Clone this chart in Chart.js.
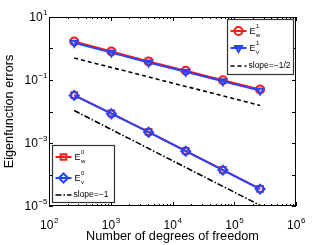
<!DOCTYPE html>
<html>
<head>
<meta charset="utf-8">
<script src="https://cdn.jsdelivr.net/npm/chart.js@4/dist/chart.umd.min.js"></script>
<style>
  html, body { margin: 0; padding: 0; background: #fff; }
  #wrap { width: 327px; height: 245px; }
</style>
</head>
<body>
<div id="wrap"><canvas id="myChart" width="327" height="245"></canvas></div>
<script>
const dofs = [256, 1024, 4096, 16384, 65536, 262144];
const ew1 = [1.66, 0.80, 0.39, 0.197, 0.098, 0.050];
const ev1 = [1.52, 0.74, 0.36, 0.183, 0.091, 0.046];
const slopeHalf = [0.5, 0.25, 0.125, 0.0625, 0.03125, 0.0156];
const ew0 = [0.0330, 0.0087, 0.00225, 5.6e-4, 1.40e-4, 3.5e-5];
const ev0 = [0.0325, 0.0085, 0.0022, 5.5e-4, 1.38e-4, 3.45e-5];
const slopeOne = [0.0107, 0.00268, 6.7e-4, 1.67e-4, 4.2e-5, 1.05e-5];
const xExps = [2, 3, 4, 5, 6];
const yExps = [1, -1, -3, -5];

const RED = "#ff1a1a";
const BLUE = "#2446ff";
const FONT = "'Liberation Sans', Arial, sans-serif";

const pts = (ys) => dofs.map((x, i) => ({ x: x, y: ys[i] }));

function series(label, ys, color, style, rot, order) {
  return {
    label: label,
    data: pts(ys),
    borderColor: color,
    backgroundColor: "rgba(255,255,255,0)",
    borderWidth: 2,
    pointStyle: style,
    pointRadius: style === "rectRot" ? 4.5 : 4,
    pointBorderWidth: 2,
    pointRotation: rot,
    order: order,
  };
}

function refLine(label, ys, dash) {
  return {
    label: label,
    data: pts(ys),
    borderColor: "#000",
    borderWidth: 1.6,
    borderDash: dash,
    pointRadius: 0,
    order: 3,
  };
}

const datasets = [
  series("Ew1", ew1, RED, "circle", 0, 2),
  series("Ev1", ev1, BLUE, "triangle", 180, 1),
  refLine("slope=-1/2", slopeHalf, [4, 3]),
  series("Ew0", ew0, RED, "rect", 0, 2),
  series("Ev0", ev0, BLUE, "rectRot", 0, 1),
  refLine("slope=-1", slopeOne, [6, 2, 1.5, 2]),
];

// label like 10^n, text(base) + raised exponent
function powLabel(c, exp, x, y, align) {
  const base = "10";
  const sup = String(exp).replace("-", "\u2212");
  c.font = "12px " + FONT;
  const wb = c.measureText(base).width;
  c.font = "8px " + FONT;
  const ws = c.measureText(sup).width;
  let x0 = align === "center" ? x - (wb + ws) / 2 : x - wb - ws - 1;
  c.textBaseline = "alphabetic";
  c.textAlign = "left";
  c.font = "12px " + FONT;
  c.fillText(base, x0, y + 4);
  c.font = "8px " + FONT;
  c.fillText(sup, x0 + wb + 0.5, y - 2);
}

// E with sup and sub
function eLabel(c, sup, sub, x, y) {
  c.textAlign = "left";
  c.textBaseline = "alphabetic";
  c.font = "9px " + FONT;
  c.fillText("E", x, y + 3);
  const w = c.measureText("E").width;
  c.font = "6px " + FONT;
  c.fillText(sup, x + w + 0.5, y - 3);
  c.fillText(sub, x + w + 0.5, y + 6);
}

function legendBox(chart, box, entries) {
  const c = chart.ctx;
  c.save();
  c.fillStyle = "#fff";
  c.fillRect(box.x, box.y, box.w, box.h);
  c.strokeStyle = "#333";
  c.lineWidth = 1.2;
  c.strokeRect(box.x, box.y, box.w, box.h);
  entries.forEach((e) => {
    const ds = chart.data.datasets[e.idx];
    const x1 = box.x + 3, x2 = box.x + 19, y = e.y;
    c.strokeStyle = ds.borderColor;
    c.lineWidth = ds.borderWidth;
    c.setLineDash(ds.borderDash || []);
    c.beginPath();
    c.moveTo(x1, y);
    c.lineTo(x2, y);
    c.stroke();
    c.setLineDash([]);
    if (ds.pointRadius > 0) {
      c.strokeStyle = ds.borderColor;
      c.fillStyle = "rgba(255,255,255,0)";
      Chart.helpers.drawPoint(c, {
        pointStyle: ds.pointStyle,
        radius: ds.pointRadius,
        rotation: ds.pointRotation,
        borderWidth: ds.pointBorderWidth,
      }, (x1 + x2) / 2, y);
    }
    c.fillStyle = "#000";
    if (e.sup) {
      eLabel(c, e.sup, e.sub, x2 + 3, y);
    } else {
      c.font = "8.5px " + FONT;
      c.textAlign = "left";
      c.textBaseline = "middle";
      c.fillText(e.text, x2 + 2, y);
    }
  });
  c.restore();
}

const matlabAxes = {
  id: "matlabAxes",
  afterDraw(chart) {
    const c = chart.ctx;
    const a = chart.chartArea;
    const xs = chart.scales.x, ys = chart.scales.y;
    c.save();
    c.strokeStyle = "#000";
    c.lineWidth = 1;
    c.strokeRect(a.left + 0.5, a.top + 0.5, a.right - a.left - 1, a.bottom - a.top - 1);
    // x ticks (major + minor), inward on both sides
    c.beginPath();
    for (let e = 2; e <= 6; e++) {
      for (let m = 1; m <= 9; m++) {
        const v = m * Math.pow(10, e);
        if (v > 1e6) break;
        const px = Math.round(xs.getPixelForValue(v)) + 0.5;
        const len = m === 1 ? 4 : 2;
        c.moveTo(px, a.bottom); c.lineTo(px, a.bottom - len);
        c.moveTo(px, a.top); c.lineTo(px, a.top + len);
      }
    }
    for (let e = -5; e <= 1; e++) {
      const py = Math.round(ys.getPixelForValue(Math.pow(10, e))) + 0.5;
      c.moveTo(a.left, py); c.lineTo(a.left + 4, py);
      c.moveTo(a.right, py); c.lineTo(a.right - 4, py);
    }
    c.stroke();
    c.fillStyle = "#000";
    xExps.forEach((e) => powLabel(c, e, xs.getPixelForValue(Math.pow(10, e)), a.bottom + 19, "center"));
    yExps.forEach((e) => powLabel(c, e, a.left - 1, ys.getPixelForValue(Math.pow(10, e)), "right"));
    // axis titles
    c.font = "12.7px " + FONT;
    c.textAlign = "center";
    c.textBaseline = "middle";
    c.fillText("Number of degrees of freedom", (a.left + a.right) / 2, 236);
    c.translate(9, (a.top + a.bottom) / 2);
    c.rotate(-Math.PI / 2);
    c.fillText("Eigenfunction errors", 0, 0);
    c.restore();

    legendBox(chart, { x: 227.5, y: 19.5, w: 66, h: 55 }, [
      { idx: 0, y: 31, sup: "1", sub: "w" },
      { idx: 1, y: 48, sup: "1", sub: "v" },
      { idx: 2, y: 66, text: "slope=\u22121/2" },
    ]);
    legendBox(chart, { x: 52.5, y: 145.5, w: 62, h: 57 }, [
      { idx: 3, y: 157, sup: "0", sub: "w" },
      { idx: 4, y: 178, sup: "0", sub: "v" },
      { idx: 5, y: 195, text: "slope=\u22121" },
    ]);
  },
};

const ctx = document.getElementById("myChart").getContext("2d");
const myChart = new Chart(ctx, {
  type: "line",
  data: { datasets: datasets },
  options: {
    responsive: false,
    animation: false,
    events: [],
    layout: { padding: { left: 49, top: 17, right: 31, bottom: 39 } },
    plugins: { legend: { display: false }, tooltip: { enabled: false } },
    scales: {
      x: { type: "logarithmic", min: 100, max: 1e6, display: false },
      y: { type: "logarithmic", min: 1e-5, max: 10, display: false },
    },
  },
  plugins: [matlabAxes],
});
</script>
</body>
</html>
